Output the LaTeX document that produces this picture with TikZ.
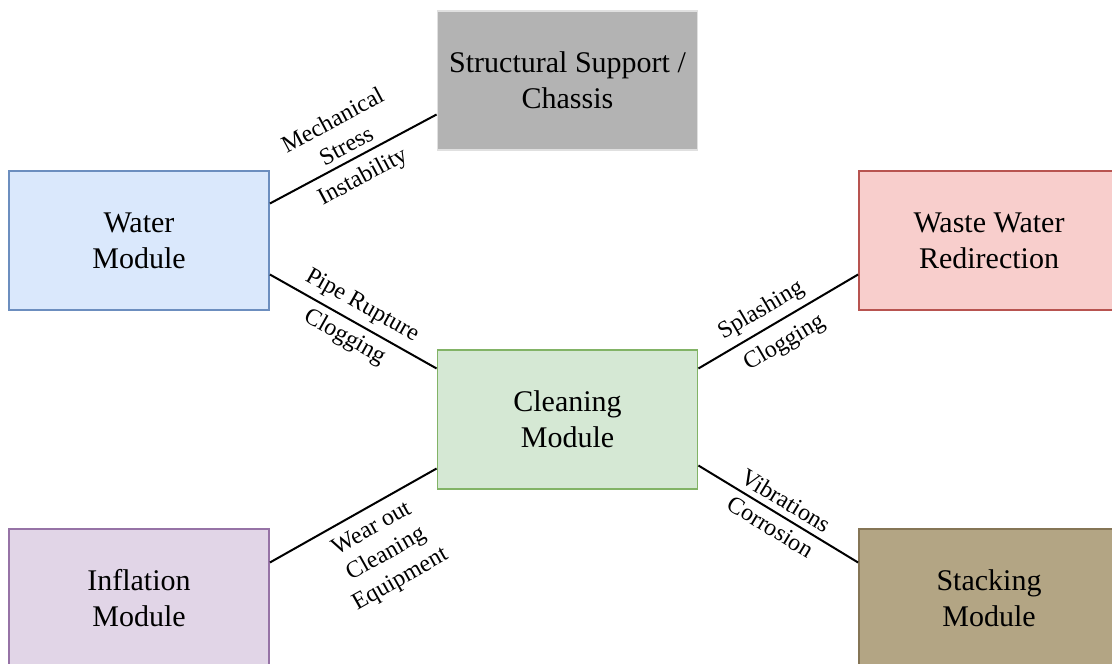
\documentclass[tikz,border=0pt]{standalone}
\usepackage{fontspec}
\setmainfont{Liberation Serif}
\usepackage{tikz}

\definecolor{waterfill}{HTML}{DAE8FC}
\definecolor{waterline}{HTML}{6C8EBF}
\definecolor{cleanfill}{HTML}{D5E8D4}
\definecolor{cleanline}{HTML}{82B366}
\definecolor{wastefill}{HTML}{F8CECC}
\definecolor{wasteline}{HTML}{B85450}
\definecolor{inflfill}{HTML}{E1D5E7}
\definecolor{inflline}{HTML}{9673A6}
\definecolor{stackfill}{HTML}{B3A584}
\definecolor{stackline}{HTML}{857556}
\definecolor{chassisfill}{HTML}{B3B3B3}
\definecolor{chassisline}{HTML}{E0E0E0}

\tikzset{
  module/.style={draw, line width=1.8pt, minimum width=260pt, minimum height=139pt,
    align=center, font=\fontsize{30}{36}\selectfont},
  link/.style={line width=2pt},
  lbl/.style={sloped, align=center, inner sep=6pt, font=\fontsize{24}{29}\selectfont}
}

\begin{document}
\begin{tikzpicture}[x=1pt,y=-1pt]
\useasboundingbox (0,0) rectangle (1112,664);

% modules
\node[module, fill=chassisfill, draw=chassisline] (chassis) at (567.5,80.5) {Structural Support /\\Chassis};
\node[module, fill=waterfill, draw=waterline] (water) at (139,240.5) {Water\\Module};
\node[module, fill=wastefill, draw=wasteline] (waste) at (989,240.5) {Waste Water\\Redirection};
\node[module, fill=cleanfill, draw=cleanline] (cleaning) at (567.5,419.5) {Cleaning\\Module};
\node[module, fill=inflfill, draw=inflline] (inflation) at (139,598.5) {Inflation\\Module};
\node[module, fill=stackfill, draw=stackline] (stacking) at (989,598.5) {Stacking\\Module};

% failure links
\draw[link] ([yshift=37pt]water.east) -- node[lbl,above]{Mechanical\\Stress} node[lbl,below=3pt]{Instability} ([yshift=-34pt]chassis.west);
\draw[link] ([yshift=-34pt]water.east) -- node[lbl,above]{Pipe Rupture} node[lbl,below]{Clogging} ([yshift=51pt]cleaning.west);
\draw[link] ([yshift=51pt]cleaning.east) -- node[lbl,above,pos=0.45]{Splashing} node[lbl,below=4pt,pos=0.47]{Clogging} ([yshift=-34pt]waste.west);
\draw[link] ([yshift=36pt]inflation.east) -- node[lbl,below=4pt,pos=0.55]{Wear out\\Cleaning\\Equipment} ([yshift=-49pt]cleaning.west);
\draw[link] ([yshift=-46pt]cleaning.east) -- node[lbl,above]{Vibrations} node[lbl,below]{Corrosion} ([yshift=36pt]stacking.west);
\end{tikzpicture}
\end{document}
